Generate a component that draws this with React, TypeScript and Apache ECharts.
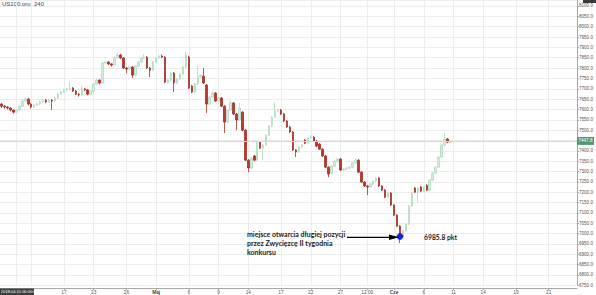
import React, { useEffect, useRef } from "react";
import * as echarts from "echarts";

const opens = [
  7626, 7616, 7612, 7607, 7597, 7587, 7597, 7616, 7641, 7650,
  7626, 7612, 7621, 7626, 7636, 7645, 7636, 7645, 7641, 7655,
  7674, 7684, 7694, 7699, 7703, 7689, 7674, 7670, 7699, 7694,
  7674, 7689, 7723, 7742, 7728, 7824, 7829, 7820, 7815, 7849,
  7863, 7849, 7800, 7795, 7805, 7766, 7810, 7829, 7849, 7853,
  7800, 7790, 7829, 7849, 7858, 7853, 7732, 7742, 7776, 7728,
  7747, 7771, 7805, 7853, 7713, 7684, 7723, 7757, 7761, 7718,
  7626, 7660, 7679, 7641, 7655, 7616, 7539, 7597, 7631, 7578,
  7549, 7587, 7500, 7355, 7317, 7375, 7355, 7442, 7413, 7428,
  7476, 7520, 7563, 7592, 7597, 7578, 7544, 7515, 7491, 7404,
  7394, 7418, 7452, 7437, 7462, 7466, 7447, 7433, 7408, 7375,
  7321, 7292, 7326, 7350, 7360, 7307, 7312, 7317, 7321, 7341,
  7355, 7297, 7249, 7230, 7225, 7239, 7254, 7268, 7230, 7210,
  7176, 7196, 7138, 7089, 7036, 6986, 7012, 7046, 7133, 7220,
  7200, 7225, 7205, 7234, 7210, 7259, 7292, 7321, 7370, 7428,
  7457, 7442,
];
const closes = [
  7616, 7612, 7607, 7597, 7587, 7597, 7616, 7641, 7650, 7626,
  7612, 7621, 7626, 7636, 7645, 7636, 7645, 7641, 7655, 7674,
  7684, 7694, 7699, 7703, 7689, 7674, 7670, 7699, 7694, 7674,
  7689, 7723, 7742, 7728, 7824, 7829, 7820, 7815, 7849, 7863,
  7849, 7800, 7795, 7805, 7766, 7810, 7829, 7849, 7853, 7800,
  7790, 7829, 7849, 7858, 7853, 7732, 7742, 7776, 7728, 7747,
  7771, 7805, 7863, 7703, 7684, 7723, 7757, 7766, 7728, 7626,
  7660, 7679, 7641, 7655, 7616, 7539, 7597, 7631, 7578, 7549,
  7607, 7500, 7355, 7317, 7365, 7355, 7442, 7413, 7428, 7476,
  7520, 7563, 7592, 7597, 7578, 7544, 7515, 7491, 7404, 7394,
  7418, 7428, 7437, 7462, 7466, 7447, 7423, 7408, 7375, 7321,
  7288, 7326, 7350, 7360, 7307, 7312, 7317, 7321, 7341, 7355,
  7297, 7249, 7230, 7225, 7239, 7254, 7268, 7230, 7210, 7176,
  7196, 7138, 7089, 7036, 6985.8, 7012, 7046, 7133, 7196, 7200,
  7220, 7205, 7225, 7210, 7259, 7292, 7321, 7370, 7428, 7457,
  7442, 7447.8,
];
const lows = [
  7607, 7604, 7600, 7590, 7580, 7582, 7592, 7612, 7636, 7620,
  7604, 7606, 7616, 7620, 7630, 7630, 7631, 7597, 7636, 7650,
  7670, 7680, 7688, 7694, 7684, 7669, 7662, 7665, 7688, 7668,
  7669, 7684, 7718, 7722, 7722, 7818, 7814, 7808, 7810, 7844,
  7843, 7795, 7776, 7790, 7752, 7761, 7805, 7824, 7844, 7795,
  7757, 7785, 7824, 7844, 7848, 7727, 7723, 7737, 7684, 7722,
  7742, 7766, 7800, 7698, 7679, 7679, 7718, 7752, 7723, 7583,
  7620, 7655, 7636, 7636, 7611, 7486, 7534, 7592, 7573, 7500,
  7544, 7495, 7350, 7297, 7312, 7350, 7350, 7408, 7355, 7423,
  7471, 7515, 7558, 7587, 7573, 7539, 7510, 7486, 7399, 7370,
  7389, 7413, 7432, 7432, 7457, 7442, 7418, 7404, 7370, 7316,
  7273, 7287, 7321, 7345, 7302, 7302, 7307, 7312, 7316, 7336,
  7292, 7244, 7225, 7186, 7220, 7234, 7249, 7225, 7205, 7171,
  7171, 7133, 7084, 7031, 6954, 6980, 7007, 7041, 7128, 7196,
  7152, 7200, 7200, 7205, 7205, 7254, 7287, 7316, 7365, 7423,
  7437, 7440,
];
const highs = [
  7631, 7621, 7616, 7611, 7600, 7602, 7621, 7650, 7658, 7655,
  7630, 7626, 7632, 7642, 7652, 7650, 7650, 7650, 7660, 7680,
  7690, 7700, 7705, 7733, 7708, 7693, 7680, 7713, 7704, 7698,
  7694, 7728, 7748, 7746, 7830, 7836, 7834, 7824, 7855, 7873,
  7868, 7853, 7805, 7810, 7810, 7815, 7834, 7853, 7868, 7858,
  7805, 7834, 7853, 7865, 7866, 7858, 7748, 7781, 7781, 7752,
  7776, 7810, 7878, 7860, 7718, 7728, 7810, 7771, 7800, 7723,
  7665, 7689, 7684, 7660, 7660, 7621, 7602, 7645, 7636, 7583,
  7631, 7592, 7505, 7360, 7370, 7380, 7447, 7447, 7432, 7481,
  7524, 7568, 7636, 7602, 7602, 7583, 7549, 7520, 7495, 7408,
  7423, 7433, 7457, 7466, 7476, 7471, 7452, 7437, 7413, 7380,
  7326, 7331, 7355, 7365, 7365, 7316, 7321, 7326, 7345, 7365,
  7360, 7302, 7254, 7234, 7244, 7258, 7273, 7273, 7234, 7215,
  7200, 7200, 7142, 7094, 7041, 7017, 7050, 7138, 7200, 7225,
  7225, 7230, 7230, 7239, 7263, 7297, 7326, 7375, 7433, 7486,
  7462, 7452,
];

const xTickIndex = [5, 10, 21, 31, 42, 52, 63, 73, 83, 94, 104, 114, 123, 132, 142, 152, 162, 173, 184];
const xTickText = ["", "", "17", "23", "26", "Maj", "6", "9", "14", "17", "22", "27", "12:00", "Cze", "6", "11", "14", "19", "21"];
const monthLabels = ["Maj", "Cze"];
const totalSlots = 194;
const yMin = 6750;
const yMax = 8129;
const yStep = 50;
const lastPrice = 7447.8;
const entryIndex = 134;
const entryPrice = 6985.8;
const entryLabel = "6985.8 pkt";
const annotationLines = ["miejsce otwarcia długiej pozycji", "przez Zwycięzcę II tygodnia", "konkursu"];
const chartTitle = "US100.pro, 240";
const cursorTime = "2018.04.10 00:00:00";

export default function App() {
  const ref = useRef<HTMLDivElement>(null);
  useEffect(() => {
    const chart = echarts.init(ref.current!, null, { renderer: "svg" });
    const categories = Array.from({ length: totalSlots }, (_, i) => String(i));
    const labelMap: Record<number, string> = {};
    xTickIndex.forEach((idx, k) => {
      labelMap[idx] = xTickText[k];
    });
    const isTick = (i: number) => Object.prototype.hasOwnProperty.call(labelMap, i);
    const candles = opens.map((o, i) => [o, closes[i], lows[i], highs[i]]);
    const annFont = "Lato, 'Open Sans', sans-serif";

    chart.setOption({
      animation: false,
      backgroundColor: "#ffffff",
      grid: { left: 0, right: 14, top: 0, bottom: 9.7, containLabel: false },
      xAxis: {
        type: "category",
        data: categories,
        boundaryGap: true,
        offset: 2.7,
        axisLine: { lineStyle: { color: "#a8a8a8", width: 1 } },
        axisTick: { show: true, alignWithLabel: true, interval: (i: number) => isTick(i), length: 2, lineStyle: { color: "#a8a8a8" } },
        axisLabel: {
          interval: (i: number) => isTick(i),
          formatter: (_v: string, i: number) => {
            const t = labelMap[i] ?? "";
            return monthLabels.includes(t) ? `{b|${t}}` : t;
          },
          fontSize: 4.8,
          color: "#555",
          margin: 2,
          fontFamily: "'Liberation Sans', Arial, sans-serif",
          rich: { b: { fontSize: 4.8, fontWeight: "bold", color: "#444", fontFamily: "'Liberation Sans', Arial, sans-serif" } },
        },
        splitLine: { show: true, alignWithLabel: true, interval: (i: number) => isTick(i), lineStyle: { color: "#ededed", width: 1 } },
      },
      yAxis: {
        type: "value",
        position: "right",
        min: yMin,
        max: yMax,
        interval: yStep,
        axisLine: { show: true, lineStyle: { color: "#a8a8a8" } },
        axisTick: { show: true, length: 2, lineStyle: { color: "#a8a8a8" } },
        axisLabel: {
          fontSize: 4.6,
          color: "#555",
          margin: 2,
          showMaxLabel: false,
          fontFamily: "'Liberation Sans', Arial, sans-serif",
          formatter: (v: number) => v.toFixed(1),
        },
        splitLine: { show: true, lineStyle: { color: "#ededed", width: 1 } },
      },
      series: [
        {
          type: "candlestick",
          data: candles,
          barWidth: 2,
          itemStyle: {
            color: "#d6eedf",
            color0: "#bb3a2f",
            borderColor: "#b2d9c0",
            borderColor0: "#a33027",
            borderWidth: 0.8,
          },
          markLine: {
            silent: true,
            symbol: "none",
            data: [{ yAxis: lastPrice }],
            lineStyle: { color: "#c9ddd0", width: 1, type: "solid" },
            label: {
              show: true,
              position: "end",
              distance: 0,
              formatter: (p: any) => Number(p.value).toFixed(1),
              backgroundColor: "#4f9b71",
              color: "#ffffff",
              fontSize: 4.6,
              padding: [1.5, 1.5],
              fontFamily: "'Liberation Sans', Arial, sans-serif",
            },
          },
          markPoint: {
            symbol: "circle",
            symbolSize: 6,
            data: [{ coord: [String(entryIndex), entryPrice] }],
            itemStyle: { color: "#0b22ff", borderColor: "#000a80", borderWidth: 0.6 },
            label: { show: false },
          },
        },
      ],
      graphic: [
        {
          type: "text",
          left: 2,
          top: 1,
          style: { text: chartTitle, fontSize: 6, fill: "#444", fontFamily: "'Liberation Sans', Arial, sans-serif" },
        },
        { type: "rect", shape: { x: 583, y: 0, width: 13, height: 3 }, style: { fill: "#3a3a3a" }, z: 100 },
        { type: "rect", shape: { x: 0, y: 288.5, width: 34, height: 6.5 }, style: { fill: "#3d3d3d" }, z: 100 },
        {
          type: "text",
          x: 1,
          y: 291.8,
          z: 101,
          style: { text: cursorTime, fontSize: 4, fill: "#ffffff", verticalAlign: "middle", fontFamily: "'Liberation Sans', Arial, sans-serif" },
        },
        ...annotationLines.map((t, k) => ({
          type: "text",
          x: 247,
          y: 234 + k * 9,
          z: 50,
          style: { text: t, fontSize: 7, fontWeight: "bold", fill: "#1a1a1a", verticalAlign: "middle", fontFamily: annFont },
        })),
        {
          type: "line",
          z: 50,
          shape: { x1: 347, y1: 237.3, x2: 392, y2: 237.3 },
          style: { stroke: "#000000", lineWidth: 1.3 },
        },
        {
          type: "polygon",
          z: 50,
          shape: { points: [[389, 234.6], [399, 237.3], [389, 240]] },
          style: { fill: "#000000" },
        },
        {
          type: "text",
          x: 424,
          y: 237.3,
          z: 50,
          style: { text: entryLabel, fontSize: 6.8, fontWeight: "bold", fill: "#1a1a1a", verticalAlign: "middle", fontFamily: annFont },
        },
      ],
    });
    return () => chart.dispose();
  }, []);
  return <div ref={ref} style={{ position: "absolute", left: 0, top: 0, width: 596, height: 295 }} />;
}
